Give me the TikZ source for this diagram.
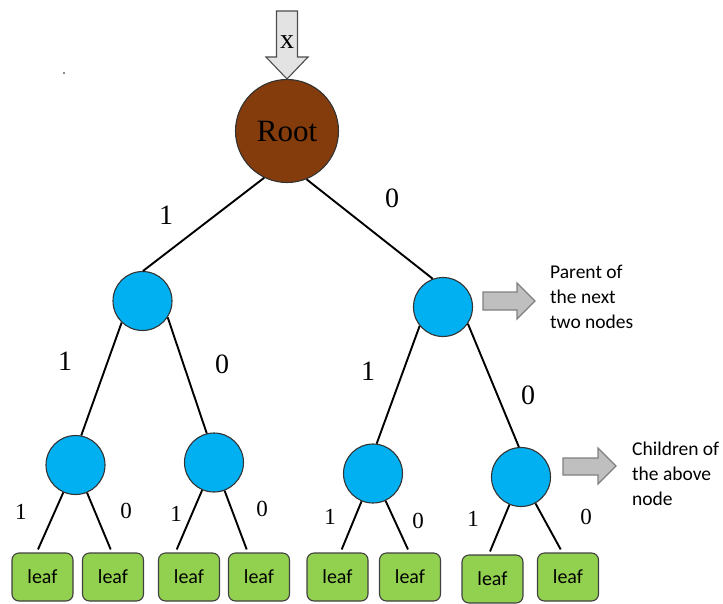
\documentclass[tikz,border=0pt]{standalone}
\usepackage{fontspec}
\setmainfont{Liberation Serif}
\newfontfamily\calib{Carlito}
\definecolor{rootbrown}{HTML}{843C0C}
\definecolor{nodeblue}{HTML}{00B0F0}
\definecolor{leafgreen}{HTML}{92D050}
\definecolor{arrowgray}{HTML}{BFBFBF}
\definecolor{arrowedge}{HTML}{7F7F7F}
\definecolor{inarrow}{HTML}{E3E3E3}
\begin{document}
\begin{tikzpicture}[x=1pt,y=-1pt,
  inner/.style={circle,draw=black!80,line width=1.1pt,fill=nodeblue,minimum size=59pt,inner sep=0pt},
  rootnode/.style={circle,draw=black!80,line width=1.1pt,fill=rootbrown,minimum size=103pt,inner sep=0pt,font=\fontsize{31}{34}\selectfont},
  leafbox/.style={rectangle,rounded corners=7pt,draw=black!75,line width=1.1pt,fill=leafgreen,minimum width=61pt,minimum height=48pt,inner sep=0pt,font=\calib\fontsize{20}{23}\selectfont},
  branch/.style={line width=1.9pt},
  bit/.style={font=\fontsize{28}{31}\selectfont,inner sep=0pt},
  lowbit/.style={font=\fontsize{23}{26}\selectfont,inner sep=0pt},
  callout/.style={fill=arrowgray,draw=arrowedge,line width=1.1pt},
  note/.style={align=left,anchor=west,inner sep=0pt,font=\calib\fontsize{19.5}{25}\selectfont}
]
\useasboundingbox (0,0) rectangle (723,603);

% stray mark
\fill[black!45] (63,72) rectangle (65,74);

% input arrow
\filldraw[fill=inarrow,draw=black!70,line width=1.1pt]
  (276.5,11) -- (297.5,11) -- (297.5,57) -- (308,57) -- (287,79) -- (266,57) -- (276.5,57) -- cycle;
\node[bit] (xin) at (287,42) {x};

% tree nodes
\node[rootnode] (root) at (287,131) {Root};
\node[inner] (n1L) at (142.5,301) {};
\node[inner] (n1R) at (443,307) {};
\node[inner] (n2a) at (75.5,465) {};
\node[inner] (n2b) at (214,462.5) {};
\node[inner] (n2c) at (373,473.5) {};
\node[inner] (n2d) at (521,477) {};

% leaves
\node[leafbox] (l1) at (42.5,577) {leaf};
\node[leafbox] (l2) at (113,577) {leaf};
\node[leafbox] (l3) at (189,577) {leaf};
\node[leafbox] (l4) at (259,577) {leaf};
\node[leafbox] (l5) at (337.5,577) {leaf};
\node[leafbox] (l6) at (410,577) {leaf};
\node[leafbox] (l7) at (492.5,579) {leaf};
\node[leafbox] (l8) at (568,577) {leaf};

% branches
\draw[branch] (root.-116) -- (n1L.89);
\draw[branch] (root.-68) -- (n1R.110);
\draw[branch] (n1L.-134) -- (n2a.79);
\draw[branch] (n1L.-33) -- (n2b.104);
\draw[branch] (n1R.-141) -- (n2c.83);
\draw[branch] (n1R.-34) -- (n2d.94);
\draw[branch] (n2a) -- ([xshift=-4.5pt,yshift=3pt]l1.north);
\draw[branch] (n2a) -- ([xshift=-2.3pt,yshift=3pt]l2.north);
\draw[branch] (n2b) -- ([xshift=-12.3pt,yshift=3pt]l3.north);
\draw[branch] (n2b) -- ([xshift=-12.3pt,yshift=3pt]l4.north);
\draw[branch] (n2c) -- ([xshift=4.2pt,yshift=3pt]l5.north);
\draw[branch] (n2c) -- ([xshift=-2pt,yshift=3pt]l6.north);
\draw[branch] (n2d) -- ([xshift=-2.5pt,yshift=3pt]l7.north);
\draw[branch] (n2d) -- ([xshift=-7.3pt,yshift=3pt]l8.north);

% branch bits
\node[bit] (b1) at (166,215) {1};
\node[bit] (b2) at (392,198) {0};
\node[bit] (b3) at (65,361) {1};
\node[bit] (b4) at (222,364) {0};
\node[bit] (b5) at (368,371) {1};
\node[bit] (b6) at (528,395) {0};
\node[lowbit] (b7) at (21,512) {1};
\node[lowbit] (b8) at (126,511) {0};
\node[lowbit] (b9) at (176,514) {1};
\node[lowbit] (b10) at (262,509) {0};
\node[lowbit] (b11) at (330,517) {1};
\node[lowbit] (b12) at (418,521) {0};
\node[lowbit] (b13) at (473,519) {1};
\node[lowbit] (b14) at (586,517) {0};

% call-out arrows and notes
\filldraw[callout] (483,292) -- (517,292) -- (517,283) -- (535,301) -- (517,319) -- (517,310) -- (483,310) -- cycle;
\filldraw[callout] (563,458) -- (598,458) -- (598,448) -- (616,466) -- (598,484) -- (598,475) -- (563,475) -- cycle;
\node[note] (pnote) at (550,297) {Parent of\\the next\\two nodes};
\node[note] (cnote) at (632,474) {Children of\\the above\\node};
\end{tikzpicture}
\end{document}
